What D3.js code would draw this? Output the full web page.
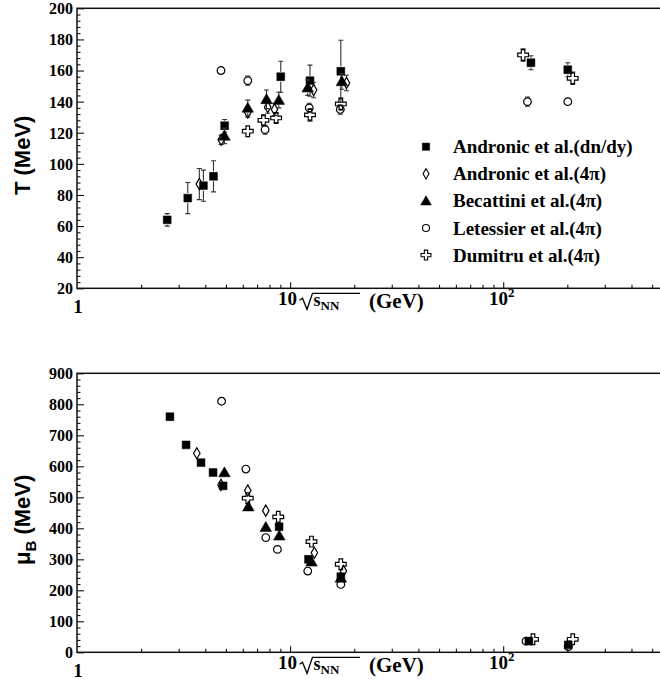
<!DOCTYPE html>
<html>
<head>
<meta charset="utf-8">
<script src="https://cdn.jsdelivr.net/npm/d3@7"></script>
<style>
  body { margin: 0; background: #fff; }
  svg { display: block; }
  .serif { font-family: "Liberation Serif", "Tinos", "DejaVu Serif", serif; font-weight: bold; }
  .sans { font-family: "Liberation Sans", Arimo, "DejaVu Sans", sans-serif; font-weight: bold; }
</style>
</head>
<body>
<svg id="chart" width="660" height="685"></svg>
<script>
// Chemical freeze-out parameters vs collision energy.
// Each row: [sqrt(s_NN) in GeV, value in MeV, error in MeV]

// Temperature T
const tAndronicDn  = [[2.65,64,4],[3.31,78,10],[3.92,86,10],[4.37,92,10],[4.93,124.5,4],[9.04,156,10],[12.4,153.5,10],[17.3,159.5,20],[135,165,4.5],[201,160.5,4.5]];
const tAndronic4pi = [[3.75,87,10],[4.75,115.5,3],[6.33,133,3],[7.85,136.5,4],[8.45,135,4],[12.9,147.5,5],[18.4,152,5]];
const tBecattini   = [[4.92,118,5],[6.33,136,5],[7.75,141.5,6],[8.85,141,5],[12.1,149,5],[17.5,153,5]];
const tLetessier   = [[4.74,160,0],[6.33,153.5,3],[7.63,122,3],[12.3,136,3],[17.2,135,3],[130,140,3],[201,140,0]];
const tDumitru     = [[6.33,121,0],[7.5,128,3],[8.6,129.5,3],[12.4,131.5,4],[17.3,138.5,4],[124,170,4],[212,155,4]];

// Baryon chemical potential mu_B
const muAndronicDn  = [[2.73,760,0],[3.25,669,0],[3.82,612,0],[4.35,580,0],[4.85,537,0],[8.88,405,0],[12.2,300,0],[17.3,244,0],[132,36,0],[202,24,0]];
const muAndronic4pi = [[3.65,642,0],[4.74,540,0],[6.33,522,0],[7.69,457,0],[13.0,321,0],[17.8,262,0]];
const muBecattini   = [[4.92,580,0],[6.37,470,0],[7.69,404,0],[8.9,376,0],[12.6,292,0],[17.3,240,0]];
const muLetessier   = [[4.77,810,0],[6.2,591,0],[7.69,370,0],[8.72,332,0],[12.1,262,0],[17.3,219,0],[128,36,0],[202,18,0]];
const muDumitru     = [[6.33,497,0],[8.8,437,0],[12.6,357,0],[17.3,284,0],[138,42,0],[212,42,0]];

// Axis ranges and tick labels
const xDomain = [1, 600];
const xTickLabels = [[1, "1", ""], [10, "10", ""], [100, "10", "2"]];
const tDomain = [20, 200];
const tMajor = d3.range(20, 201, 20);
const muDomain = [0, 900];
const muMajor = d3.range(0, 901, 100);

const legendLabels = [
  "Andronic et al.(dn/dy)",
  "Andronic et al.(4\u03c0)",
  "Becattini et al.(4\u03c0)",
  "Letessier et al.(4\u03c0)",
  "Dumitru et al.(4\u03c0)"
];

// Marker styles, in legend order
const styles = [
  { type: d3.symbolSquare,   size: 62, filled: true  },
  { type: d3.symbolDiamond,  size: 36, filled: false },
  { type: d3.symbolTriangle, size: 58, filled: true  },
  { type: d3.symbolCircle,   size: 46, filled: false },
  { type: d3.symbolCross,    size: 64, filled: false }
];
// Drawing order (later ones on top)
const drawOrder = [4, 3, 1, 0, 2];

const svg = d3.select("#chart");
const left = 77, right = 669;

const x = d3.scaleLog().domain(xDomain).range([left, right]);

function xMinorTicks() {
  const out = [];
  for (let dec = 1; dec < 1000; dec *= 10)
    for (let k = 2; k <= 9; k++) { const v = dec * k; if (v <= xDomain[1]) out.push(v); }
  return out;
}

function drawPanel(top, bottom, domain, major, minorStep, seriesList, title, titleSub) {
  const y = d3.scaleLinear().domain(domain).range([bottom, top]);
  const g = svg.append("g");

  // frame
  g.append("rect")
    .attr("x", left).attr("y", top)
    .attr("width", right - left).attr("height", bottom - top)
    .attr("fill", "none").attr("stroke", "#111").attr("stroke-width", 1.5);

  // y axis: minor then major ticks
  const minor = d3.range(domain[0], domain[1] + 1e-9, minorStep).filter(v => !major.includes(v));
  g.append("g").attr("transform", `translate(${left},0)`)
    .call(d3.axisLeft(y).tickValues(minor).tickSize(-3.5).tickFormat(""))
    .call(a => a.select(".domain").remove());
  g.append("g").attr("transform", `translate(${left},0)`)
    .call(d3.axisLeft(y).tickValues(major).tickSize(-7).tickPadding(4).tickFormat(d3.format("d")))
    .call(a => a.select(".domain").remove())
    .call(a => a.attr("font-family", null).attr("font-size", null))
    .call(a => a.selectAll("text")
      .attr("class", "serif")
      .attr("font-size", 16).attr("fill", "#000").attr("dy", "0.34em"));

  // x axis ticks
  g.append("g").attr("transform", `translate(0,${bottom})`)
    .call(d3.axisBottom(x).tickValues(xMinorTicks().filter(v => v !== 10 && v !== 100)).tickSize(-3.5).tickFormat(""))
    .call(a => a.select(".domain").remove());
  g.append("g").attr("transform", `translate(0,${bottom})`)
    .call(d3.axisBottom(x).tickValues([10, 100]).tickSize(-6).tickFormat(""))
    .call(a => a.select(".domain").remove());
  g.selectAll(".tick line").attr("stroke", "#111").attr("stroke-width", 1.1);

  // x tick labels
  xTickLabels.forEach(([v, base, sup]) => {
    const t = g.append("text")
      .attr("class", "serif")
      .attr("x", x(v) + (sup ? -1.5 : (v === 10 ? -2.5 : 1)))
      .attr("y", bottom + (v === 1 ? 25 : 17))
      .attr("text-anchor", "middle")
      .attr("font-size", 19)
      .text(base);
    if (sup) t.append("tspan").attr("dy", -8).attr("font-size", 13).text(sup);
  });

  // x axis title: sqrt(s_NN) (GeV)
  const tb = bottom + 15;
  g.append("path")
    .attr("d", `M299.5,${tb - 3} L302.5,${tb - 5} L307,${tb + 6} L312.5,${tb - 10} L360,${tb - 10}`)
    .attr("fill", "none").attr("stroke", "#000").attr("stroke-width", 1.3);
  const st = g.append("text")
    .attr("class", "serif")
    .attr("x", 313.5).attr("y", tb + 2.5)
    .attr("font-size", 18)
    .text("s");
  st.append("tspan").attr("dy", 4).attr("font-size", 13).text("NN");
  g.append("text")
    .attr("class", "serif")
    .attr("x", 369).attr("y", tb + 4.5)
    .attr("font-size", 21)
    .text("(GeV)");

  // y axis title
  const yt = g.append("text")
    .attr("class", "sans")
    .attr("transform", `translate(30,${(top + bottom) / 2 + 7}) rotate(-90)`)
    .attr("text-anchor", "middle")
    .attr("font-size", 22)
    .text(title);
  if (titleSub) {
    yt.append("tspan").attr("dy", 6).attr("font-size", 15).text(titleSub);
    yt.append("tspan").attr("dy", -6).text(" (MeV)");
  }

  // data
  const clipId = "clip" + Math.round(top);
  svg.append("clipPath").attr("id", clipId)
    .append("rect").attr("x", left).attr("y", top).attr("width", right - left).attr("height", bottom - top);
  const plot = g.append("g").attr("clip-path", `url(#${clipId})`);

  drawOrder.forEach(si => {
    const st = styles[si];
    const data = seriesList[si];
    const gap = 5;
    // error bars, leaving the marker area clear
    data.filter(d => d[2] > 0).forEach(d => {
      const cx = x(d[0]), cy = y(d[1]);
      const yHi = y(d[1] + d[2]), yLo = y(d[1] - d[2]);
      const eg = plot.append("g").attr("stroke", "#333").attr("stroke-width", 1.1);
      if (cy - yHi > gap) eg.append("line").attr("x1", cx).attr("x2", cx).attr("y1", yHi).attr("y2", cy - gap);
      if (yLo - cy > gap) eg.append("line").attr("x1", cx).attr("x2", cx).attr("y1", cy + gap).attr("y2", yLo);
      eg.append("line").attr("x1", cx - 2.5).attr("x2", cx + 2.5).attr("y1", yHi).attr("y2", yHi);
      eg.append("line").attr("x1", cx - 2.5).attr("x2", cx + 2.5).attr("y1", yLo).attr("y2", yLo);
    });
    plot.selectAll(null).data(data).enter().append("path")
      .attr("transform", d => `translate(${x(d[0])},${y(d[1]) + (st.type === d3.symbolTriangle ? 1 : 0)})`)
      .attr("d", d3.symbol().type(st.type).size(st.size))
      .attr("fill", st.filled ? "#000" : "none")
      .attr("stroke", "#000")
      .attr("stroke-width", st.filled ? 0.5 : 1.2);
  });
  return g;
}

drawPanel(8.3, 288.3, tDomain, tMajor, 4,
  [tAndronicDn, tAndronic4pi, tBecattini, tLetessier, tDumitru], "T (MeV)", null);
drawPanel(373.3, 652.3, muDomain, muMajor, 20,
  [muAndronicDn, muAndronic4pi, muBecattini, muLetessier, muDumitru], "\u03bc", "B");

// legend in the top panel
const leg = svg.append("g");
legendLabels.forEach((lab, i) => {
  const cy = 146.7 + i * 27.1;
  const st = styles[i];
  leg.append("path")
    .attr("transform", `translate(426,${cy + (st.type === d3.symbolTriangle ? 1 : 0)})`)
    .attr("d", d3.symbol().type(st.type).size(st.size * 0.85))
    .attr("fill", st.filled ? "#000" : "none")
    .attr("stroke", "#000").attr("stroke-width", st.filled ? 0.5 : 1.1);
  leg.append("text")
    .attr("class", "serif")
    .attr("x", 453).attr("y", cy + 6.5)
    .attr("font-size", 19)
    .text(lab);
});
</script>
</body>
</html>
